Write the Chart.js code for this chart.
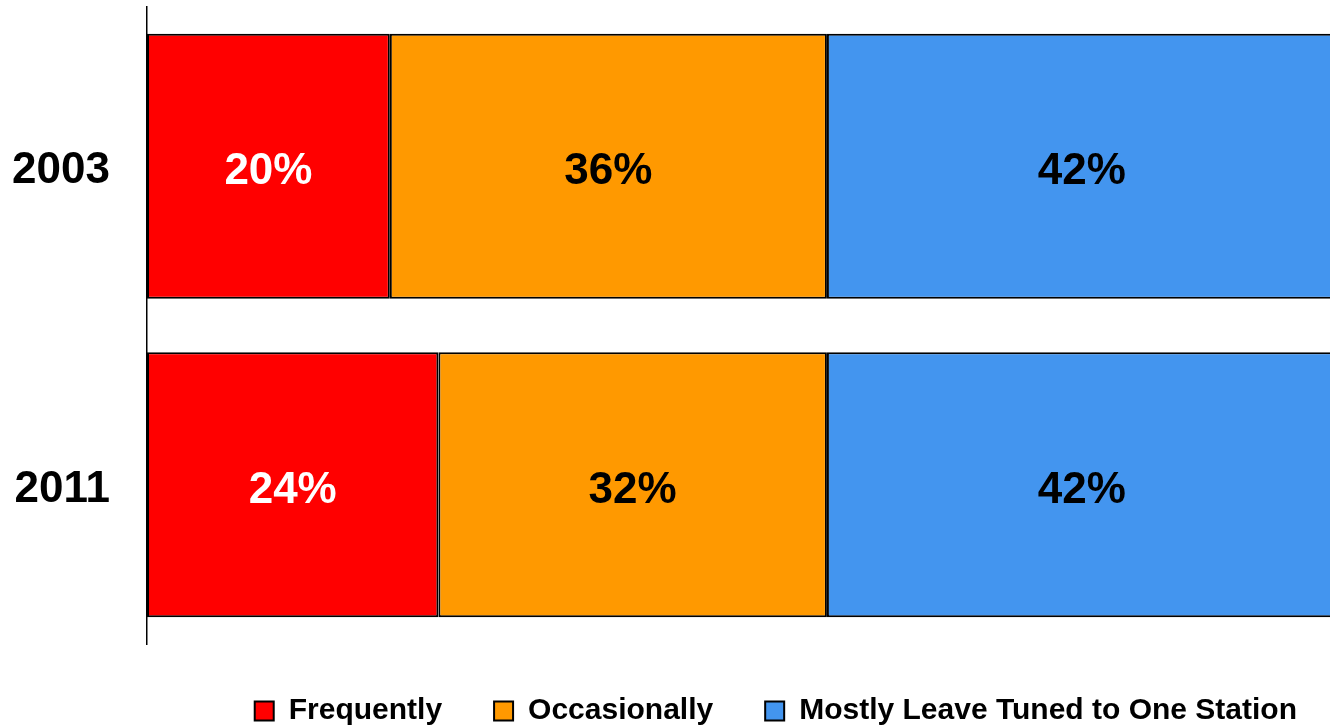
<!DOCTYPE html>
<html>
<head>
<meta charset="utf-8">
<script src="https://cdn.jsdelivr.net/npm/chart.js@4"></script>
<style>
  html, body { margin: 0; padding: 0; overflow: hidden; background: #fff; }
  canvas { display: block; }
</style>
</head>
<body>
<canvas id="tuningChart" width="1349" height="736"></canvas>
<script>
const years = ["2003", "2011"];
const seriesNames = ["Frequently", "Occasionally", "Mostly Leave Tuned to One Station"];
const frequently = [20, 24];
const occasionally = [36, 32];
const mostlyOneStation = [42, 42];

const seriesColors = ["#FF0000", "#FF9900", "#4395EF"];
const labelColors = ["#ffffff", "#000000", "#000000"];
const fontFamily = "'Liberation Sans', Arial, sans-serif";

// draws the percentage in the middle of each bar segment
const barLabels = {
  id: "barLabels",
  afterDatasetsDraw(chart) {
    const ctx = chart.ctx;
    ctx.save();
    ctx.font = "bold 44px " + fontFamily;
    ctx.textAlign = "center";
    ctx.textBaseline = "middle";
    chart.data.datasets.forEach((dataset, i) => {
      const meta = chart.getDatasetMeta(i);
      ctx.fillStyle = labelColors[i];
      meta.data.forEach((bar, j) => {
        const pos = bar.getCenterPoint();
        ctx.fillText(dataset.data[j] + "%", pos.x, pos.y + 6);
      });
    });
    ctx.restore();
  }
};

const seriesData = [frequently, occasionally, mostlyOneStation];

new Chart(document.getElementById("tuningChart"), {
  type: "bar",
  data: {
    labels: years,
    datasets: seriesNames.map((name, i) => ({
      label: name,
      data: seriesData[i],
      backgroundColor: seriesColors[i],
      borderColor: "#000000",
      borderWidth: 2,
      borderSkipped: false,
      barPercentage: 0.832,
      categoryPercentage: 1
    }))
  },
  options: {
    indexAxis: "y",
    responsive: false,
    animation: false,
    layout: {
      padding: { top: 7, left: 0, right: 0, bottom: 0 }
    },
    plugins: {
      tooltip: { enabled: false },
      legend: {
        position: "bottom",
        align: "end",
        labels: {
          color: "#000000",
          boxWidth: 19,
          boxHeight: 19,
          padding: 52,
          font: { family: fontFamily, size: 30, weight: "bold" }
        }
      }
    },
    scales: {
      x: {
        stacked: true,
        display: false,
        min: 0,
        max: 99
      },
      y: {
        stacked: true,
        afterFit(scale) {
          scale.width = 147;
          // the tick padding should not push the plot area down
          scale.paddingTop = 0;
          scale.paddingBottom = 0;
        },
        grid: { display: false, drawTicks: false },
        border: { display: true, color: "#000000", width: 1.5 },
        ticks: {
          color: "#000000",
          padding: 37,
          labelOffset: 5,
          font: { family: fontFamily, size: 44, weight: "bold" }
        }
      }
    }
  },
  plugins: [barLabels]
});
</script>
</body>
</html>
